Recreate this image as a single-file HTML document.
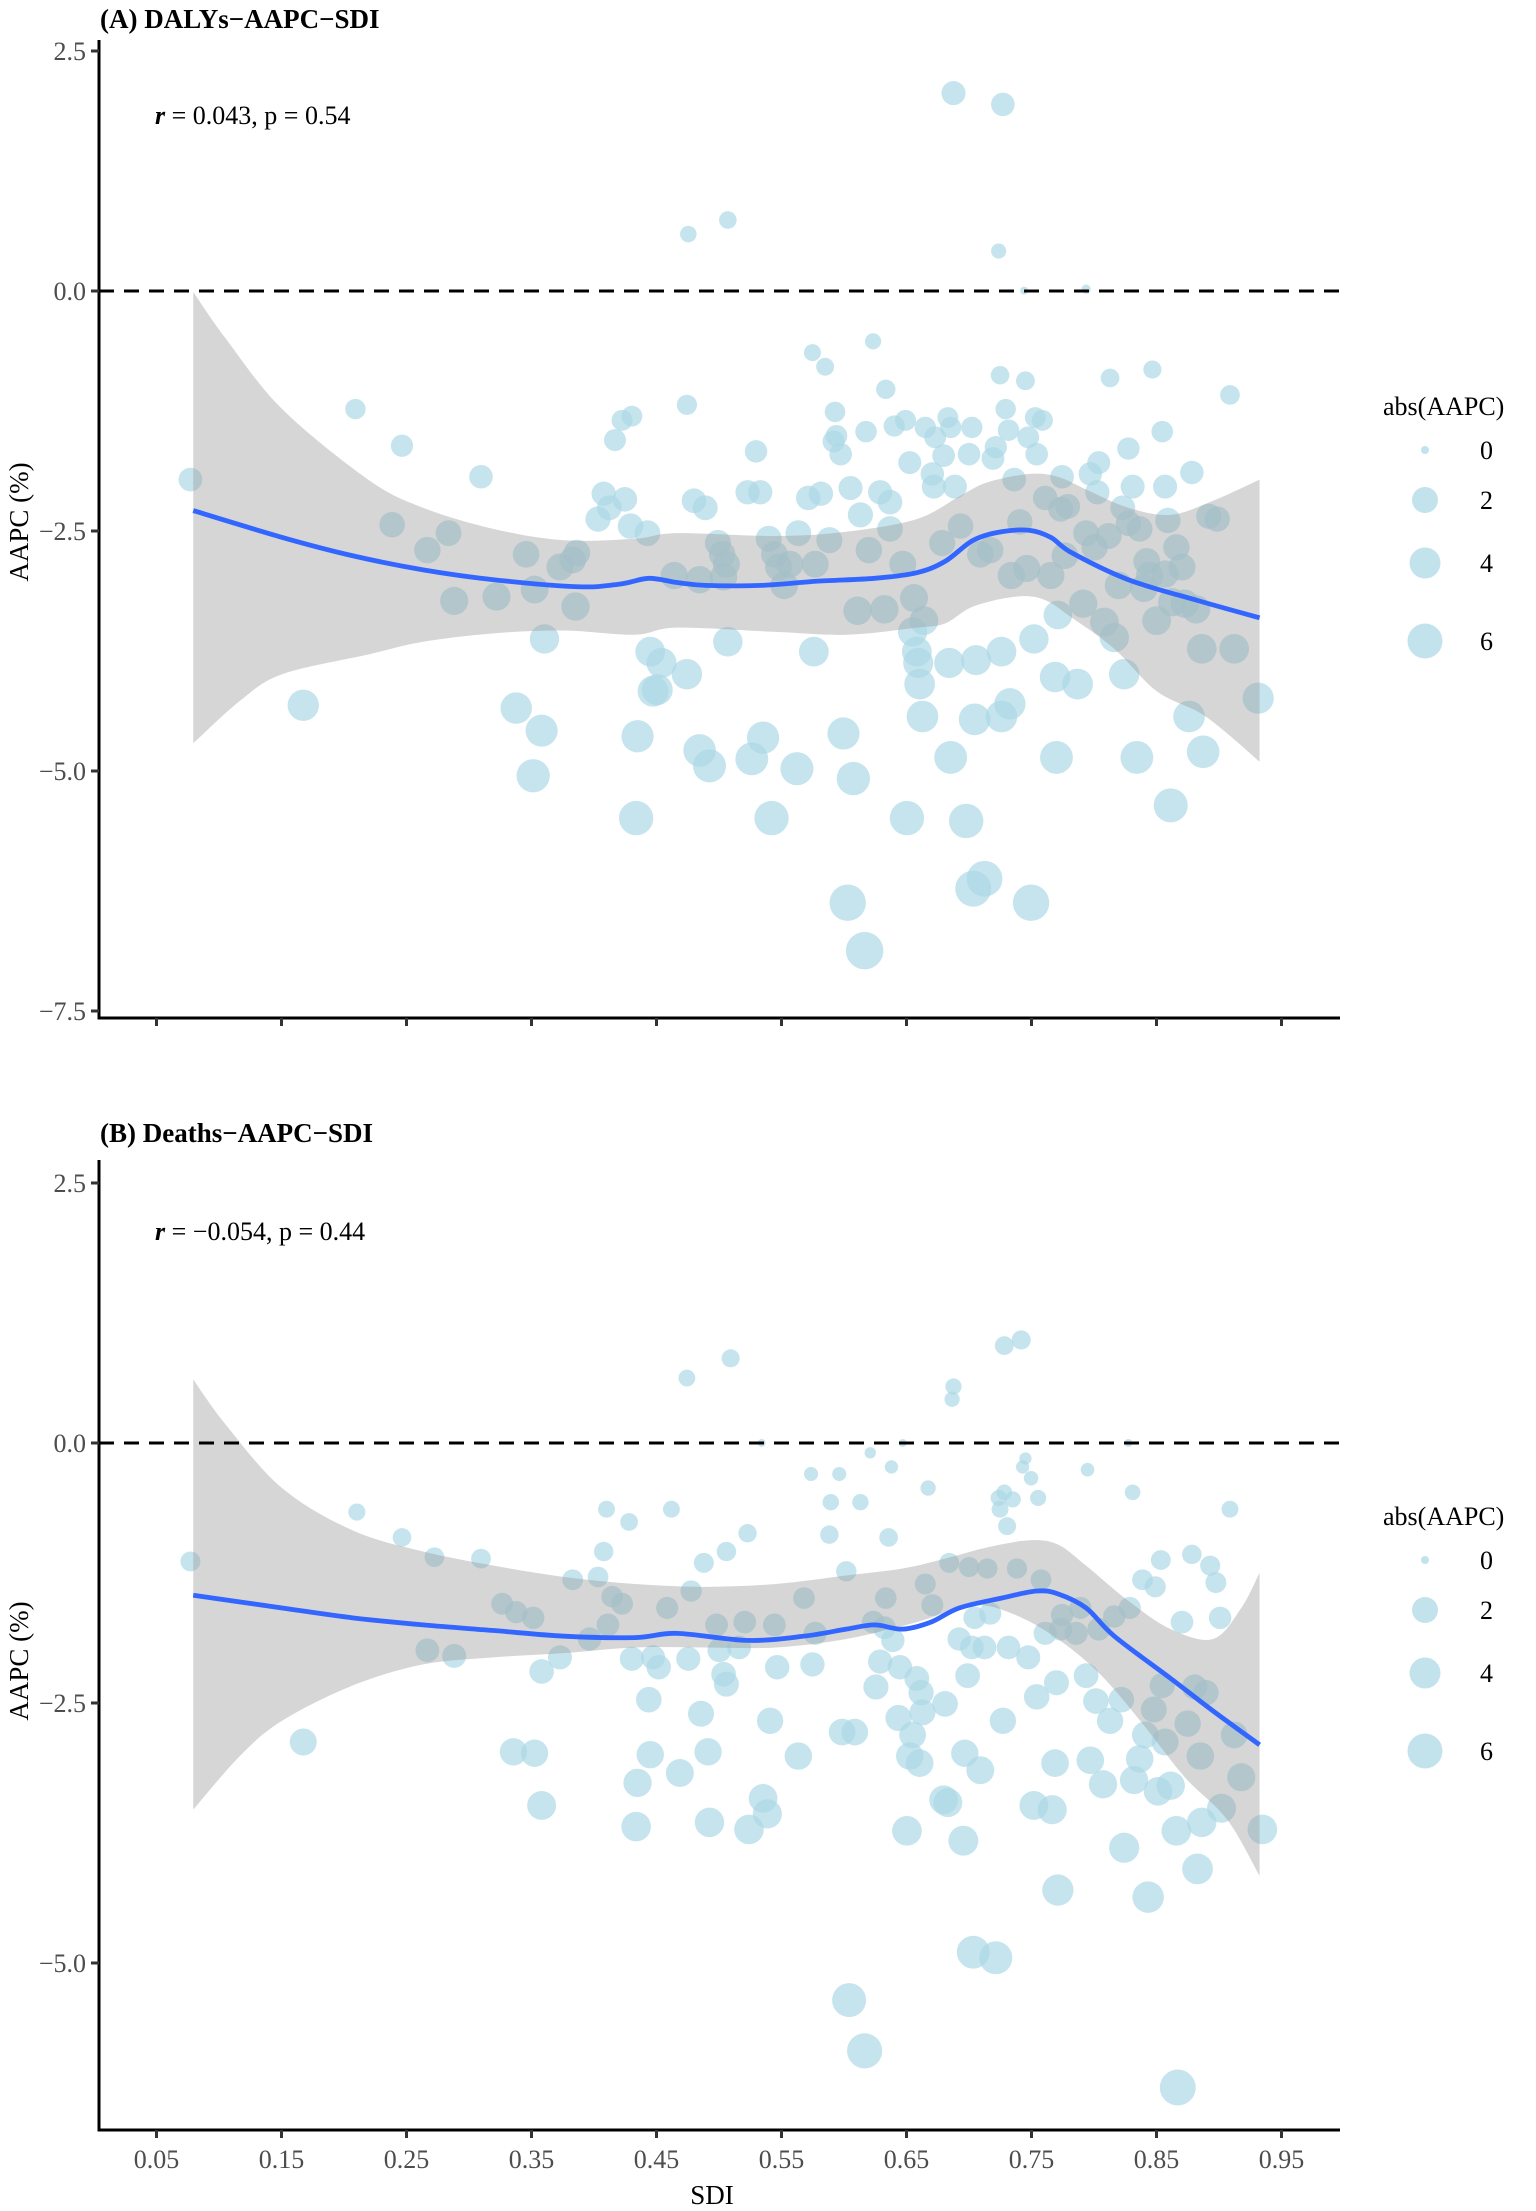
<!DOCTYPE html>
<html><head><meta charset="utf-8"><style>
html,body{margin:0;padding:0;background:#fff;}
svg{display:block;}
text{font-family:"Liberation Serif","DejaVu Serif",serif;}
</style></head><body>
<svg id="s" width="1536" height="2211" viewBox="0 0 1536 2211" xmlns="http://www.w3.org/2000/svg">
<rect width="1536" height="2211" fill="#fff"/>
<g id="data" transform="scale(1.4105)"></g>
<line x1="99" y1="291" x2="1340" y2="291" stroke="#000" stroke-width="3" stroke-dasharray="15,10"/>
<line x1="99" y1="1443" x2="1340" y2="1443" stroke="#000" stroke-width="3" stroke-dasharray="15,10"/>
<g stroke="#000" stroke-width="3" fill="none">
<path d="M99,40 V1018 H1340"/>
<path d="M99,1160 V2130 H1340"/>
</g>
<g id="ticks" stroke="#333" stroke-width="3"></g>
<g font-size="26" fill="#4d4d4d" text-anchor="end" id="ylab">
<text x="86" y="60">2.5</text><text x="86" y="300">0.0</text><text x="86" y="540">−2.5</text><text x="86" y="780">−5.0</text><text x="86" y="1020">−7.5</text>
<text x="86" y="1192">2.5</text><text x="86" y="1452">0.0</text><text x="86" y="1712">−2.5</text><text x="86" y="1972">−5.0</text>
</g>
<g font-size="26" fill="#4d4d4d" text-anchor="middle" id="xlab"></g>
<text x="100" y="28" font-size="27" font-weight="bold">(A) DALYs−AAPC−SDI</text>
<text x="100" y="1142" font-size="27" font-weight="bold">(B) Deaths−AAPC−SDI</text>
<text x="155" y="124" font-size="26"><tspan font-weight="bold" font-style="italic">r</tspan>  = 0.043, p = 0.54</text>
<text x="155" y="1240" font-size="26"><tspan font-weight="bold" font-style="italic">r</tspan>  = −0.054, p = 0.44</text>
<text x="712" y="2204" font-size="27" text-anchor="middle">SDI</text>
<text transform="translate(28,522) rotate(-90)" font-size="27" text-anchor="middle">AAPC (%)</text>
<text transform="translate(28,1661) rotate(-90)" font-size="27" text-anchor="middle">AAPC (%)</text>
<g font-size="26" fill="#000">
<text x="1383" y="415">abs(AAPC)</text>
<circle cx="1425" cy="450" r="4" fill="#ADD8E6" fill-opacity="0.75"/><text x="1480" y="459">0</text>
<circle cx="1425" cy="500" r="13" fill="#ADD8E6" fill-opacity="0.75"/><text x="1480" y="509">2</text>
<circle cx="1425" cy="563" r="15.5" fill="#ADD8E6" fill-opacity="0.75"/><text x="1480" y="572">4</text>
<circle cx="1425" cy="641" r="17.5" fill="#ADD8E6" fill-opacity="0.75"/><text x="1480" y="650">6</text>
<text x="1383" y="1525">abs(AAPC)</text>
<circle cx="1425" cy="1560" r="4" fill="#ADD8E6" fill-opacity="0.75"/><text x="1480" y="1569">0</text>
<circle cx="1425" cy="1610" r="13" fill="#ADD8E6" fill-opacity="0.75"/><text x="1480" y="1619">2</text>
<circle cx="1425" cy="1673" r="15.5" fill="#ADD8E6" fill-opacity="0.75"/><text x="1480" y="1682">4</text>
<circle cx="1425" cy="1751" r="17.5" fill="#ADD8E6" fill-opacity="0.75"/><text x="1480" y="1760">6</text>
</g>
</svg>
<script>
(function(){
var NS="http://www.w3.org/2000/svg";
function el(p,n,a){var e=document.createElementNS(NS,n);for(var k in a)e.setAttribute(k,a[k]);p.appendChild(e);return e;}
var ticks=document.getElementById('ticks'),xl=document.getElementById('xlab');
[51,291,531,771,1011].forEach(function(y){el(ticks,'line',{x1:91,y1:y,x2:99,y2:y});});
[1183,1443,1703,1963].forEach(function(y){el(ticks,'line',{x1:91,y1:y,x2:99,y2:y});});
for(var i=0;i<10;i++){var x=156.5+i*125;
el(ticks,'line',{x1:x,y1:1018,x2:x,y2:1026});el(ticks,'line',{x1:x,y1:2130,x2:x,y2:2138});
var t=el(xl,'text',{x:x,y:2168});t.textContent=(0.05+i*0.1).toFixed(2);}
var g=document.getElementById('data');
function smooth(pts){var d='M'+pts[0][0]+','+pts[0][1];for(var i=0;i<pts.length-1;i++){var p0=pts[i-1]||pts[i],p1=pts[i],p2=pts[i+1],p3=pts[i+2]||p2;
d+=' C'+(p1[0]+(p2[0]-p0[0])/6)+','+(p1[1]+(p2[1]-p0[1])/6)+' '+(p2[0]-(p3[0]-p1[0])/6)+','+(p2[1]-(p3[1]-p1[1])/6)+' '+p2[0]+','+p2[1];}return d;}
function ribbon(up,lo){var d=smooth(up);var r=lo.slice().reverse();d+=' L'+r[0][0]+','+r[0][1]+smooth(r).replace(/^M[^C]*/,' ');return d+'Z';}
var A=[[135,340],[215,500],[252,290],[278,372],[285,316],[303,390],[318,378],[322,426],[341,338],[352,423],[366,502],[373,393],[378,550],[379,418],[384,518],[386,453],[397,402],[406,397],[408,430],[409,392],[424,368],[428,350],[432,360],[436,312],[441,298],[443,354],[447,373],[448,295],[452,522],[451,580],[459,378],[461,462],[463,490],[466,489],[469,470],[478,408],[487,287],[487,478],[488,166],[492,355],[496,411],[496,532],[500,360],[503,543],[509,385],[512,393],[513,409],[515,400],[516,156],[516,455],[530,349],[533,538],[536,320],[539,349],[541,523],[545,382],[547,580],[549,393],[552,402],[556,415],[560,400],[565,545],[566,378],[573,353],[576,250],[577,462],[578,400],[582,350],[585,260],[588,383],[591,313],[592,292],[593,309],[596,322],[598,520],[601,640],[603,346],[605,552],[608,433],[610,365],[613,674],[614,306],[616,390],[619,242],[624,349],[627,432],[628,276],[631,375],[631,356],[634,302],[640,400],[642,298],[643,580],[645,328],[647,448],[648,424],[650,462],[651,470],[652,485],[654,508],[655,440],[656,303],[661,336],[662,345],[663,310],[668,385],[669,323],[672,296],[674,537],[673,470],[674,303],[676,66],[677,345],[681,373],[685,582],[687,322],[689,303],[690,630],[691,510],[692,468],[695,393],[698,623],[702,390],[704,325],[706,317],[708,178],[709,266],[710,508],[710,462],[711,74],[713,290],[715,305],[716,499],[717,408],[719,340],[723,370],[727,270],[728,403],[729,310],[731,640],[733,453],[734,296],[735,322],[739,298],[741,353],[745,408],[748,480],[749,537],[750,436],[752,361],[753,338],[755,394],[757,359],[764,485],[768,428],[770,378],[773,336],[776,388],[778,349],[779,328],[783,441],[786,380],[787,268],[790,452],[793,415],[796,360],[797,478],[800,318],[800,371],[803,345],[806,537],[808,375],[811,417],[813,398],[815,408],[817,262],[820,440],[824,306],[826,345],[826,407],[828,369],[830,571],[831,427],[834,388],[838,402],[840,428],[843,508],[845,335],[848,432],[852,460],[853,533],[857,366],[863,368],[872,280],[875,460],[892,495],[726,206],[770,205]];
var B=[[135,1107],[215,1235],[253,1072],[285,1090],[303,1170],[308,1104],[322,1174],[341,1105],[356,1137],[364,1242],[366,1143],[378,1147],[379,1243],[384,1280],[384,1185],[397,1175],[406,1120],[418,1162],[424,1118],[428,1100],[430,1070],[431,1152],[434,1132],[441,1137],[446,1079],[448,1176],[451,1295],[452,1264],[460,1205],[461,1244],[463,1175],[467,1182],[473,1140],[476,1070],[482,1257],[487,977],[488,1176],[490,1128],[497,1215],[499,1108],[502,1242],[503,1292],[508,1152],[510,1170],[513,1187],[515,1194],[515,1100],[518,963],[524,1168],[528,1150],[530,1087],[531,1297],[541,1275],[544,1286],[546,1220],[549,1152],[551,1182],[566,1245],[570,1133],[575,1045],[576,1180],[578,1158],[588,1088],[589,1065],[595,1045],[597,1228],[600,1114],[602,1418],[606,1228],[610,1065],[613,1454],[617,1030],[619,1150],[621,1196],[624,1178],[627,1154],[628,1133],[630,1090],[632,1040],[633,1163],[637,1218],[638,1182],[643,1298],[645,1245],[647,1230],[650,1190],[652,1250],[653,1200],[654,1214],[656,1123],[658,1055],[661,1138],[669,1276],[670,1208],[672,1278],[673,1108],[675,992],[676,983],[680,1162],[683,1305],[684,1243],[686,1188],[687,1111],[689,1168],[690,1384],[691,1147],[695,1255],[698,1168],[700,1112],[702,1144],[706,1388],[708,1062],[709,1070],[711,1220],[712,954],[712,1058],[714,1082],[715,1168],[718,1063],[721,1112],[724,950],[725,1040],[727,1034],[729,1175],[731,1048],[733,1280],[735,1203],[736,1062],[738,1120],[741,1158],[746,1283],[748,1250],[749,1193],[750,1340],[752,1155],[753,1145],[763,1158],[766,1140],[770,1188],[771,1042],[773,1248],[777,1206],[779,1155],[782,1265],[787,1220],[790,1146],[795,1205],[797,1310],[801,1140],[803,1058],[804,1262],[808,1247],[810,1120],[812,1230],[814,1345],[818,1212],[819,1125],[821,1270],[823,1106],[824,1195],[826,1235],[830,1266],[834,1298],[835,1480],[838,1150],[842,1222],[845,1102],[847,1196],[849,1325],[851,1245],[852,1292],[855,1200],[858,1110],[862,1122],[865,1147],[866,1282],[872,1070],[875,1230],[880,1260],[895,1297],[540,1023],[640,1023],[800,1023]];
function pts(arr,z,u){arr.forEach(function(p){var v=Math.abs((z-p[1])/u);el(g,'circle',{cx:p[0],cy:p[1],r:(2.8+4.0*Math.sqrt(v)).toFixed(2),fill:'#ADD8E6','fill-opacity':0.7});});}
pts(A,206,68);pts(B,1023,73.8);
var upA=[[137,207],[160,240],[200,290],[261,340],[300,360],[350,375],[400,383],[450,382],[480,378],[550,380],[600,377],[650,368],[680,352],[700,342],[730,336],[750,338],[770,347],[800,360],[830,365],[860,355],[893,340]];
var loA=[[137,527],[170,497],[200,478],[261,464],[300,455],[350,449],[400,447],[450,450],[480,445],[550,448],[600,450],[650,445],[670,442],[690,430],[720,423],[740,425],[760,438],[790,460],[820,490],[850,505],[870,520],[893,540]];
var lnA=[[137,362],[200,381],[250,394],[300,404],[350,411],[410,416],[440,414],[460,410],[480,413],[500,415],[540,415],[580,412],[620,410],[650,406],[670,398],[690,383],[710,377],[730,376],[745,381],[760,392],[800,411],[850,426],[893,438]];
var upB=[[137,978],[160,1010],[200,1055],[250,1085],[300,1100],[350,1110],[400,1118],[450,1123],[500,1125],[550,1123],[600,1117],[640,1112],[670,1105],[700,1097],[730,1092],[750,1095],[770,1110],[800,1135],[830,1155],[860,1162],[880,1140],[893,1115]];
var loB=[[137,1283],[170,1245],[200,1220],[250,1195],[300,1180],[350,1175],[400,1172],[450,1168],[500,1168],[550,1168],[600,1162],[650,1150],[690,1138],[720,1145],[750,1162],[780,1187],[810,1222],[840,1260],[870,1290],[893,1330]];
var lnB=[[137,1131],[200,1140],[250,1147],[300,1152],[350,1156],[400,1160],[450,1161],[480,1158],[530,1163],[570,1160],[600,1155],[620,1152],[640,1155],[660,1150],[680,1140],[710,1133],[735,1128],[750,1130],[770,1140],[790,1160],[830,1190],[860,1213],[893,1237]];
el(g,'path',{d:ribbon(upA,loA),fill:'#999','fill-opacity':0.4});
el(g,'path',{d:ribbon(upB,loB),fill:'#999','fill-opacity':0.4});
el(g,'path',{d:smooth(lnA),fill:'none',stroke:'#3366FF','stroke-width':3.4});
el(g,'path',{d:smooth(lnB),fill:'none',stroke:'#3366FF','stroke-width':3.4});
})();
</script>
</body></html>
